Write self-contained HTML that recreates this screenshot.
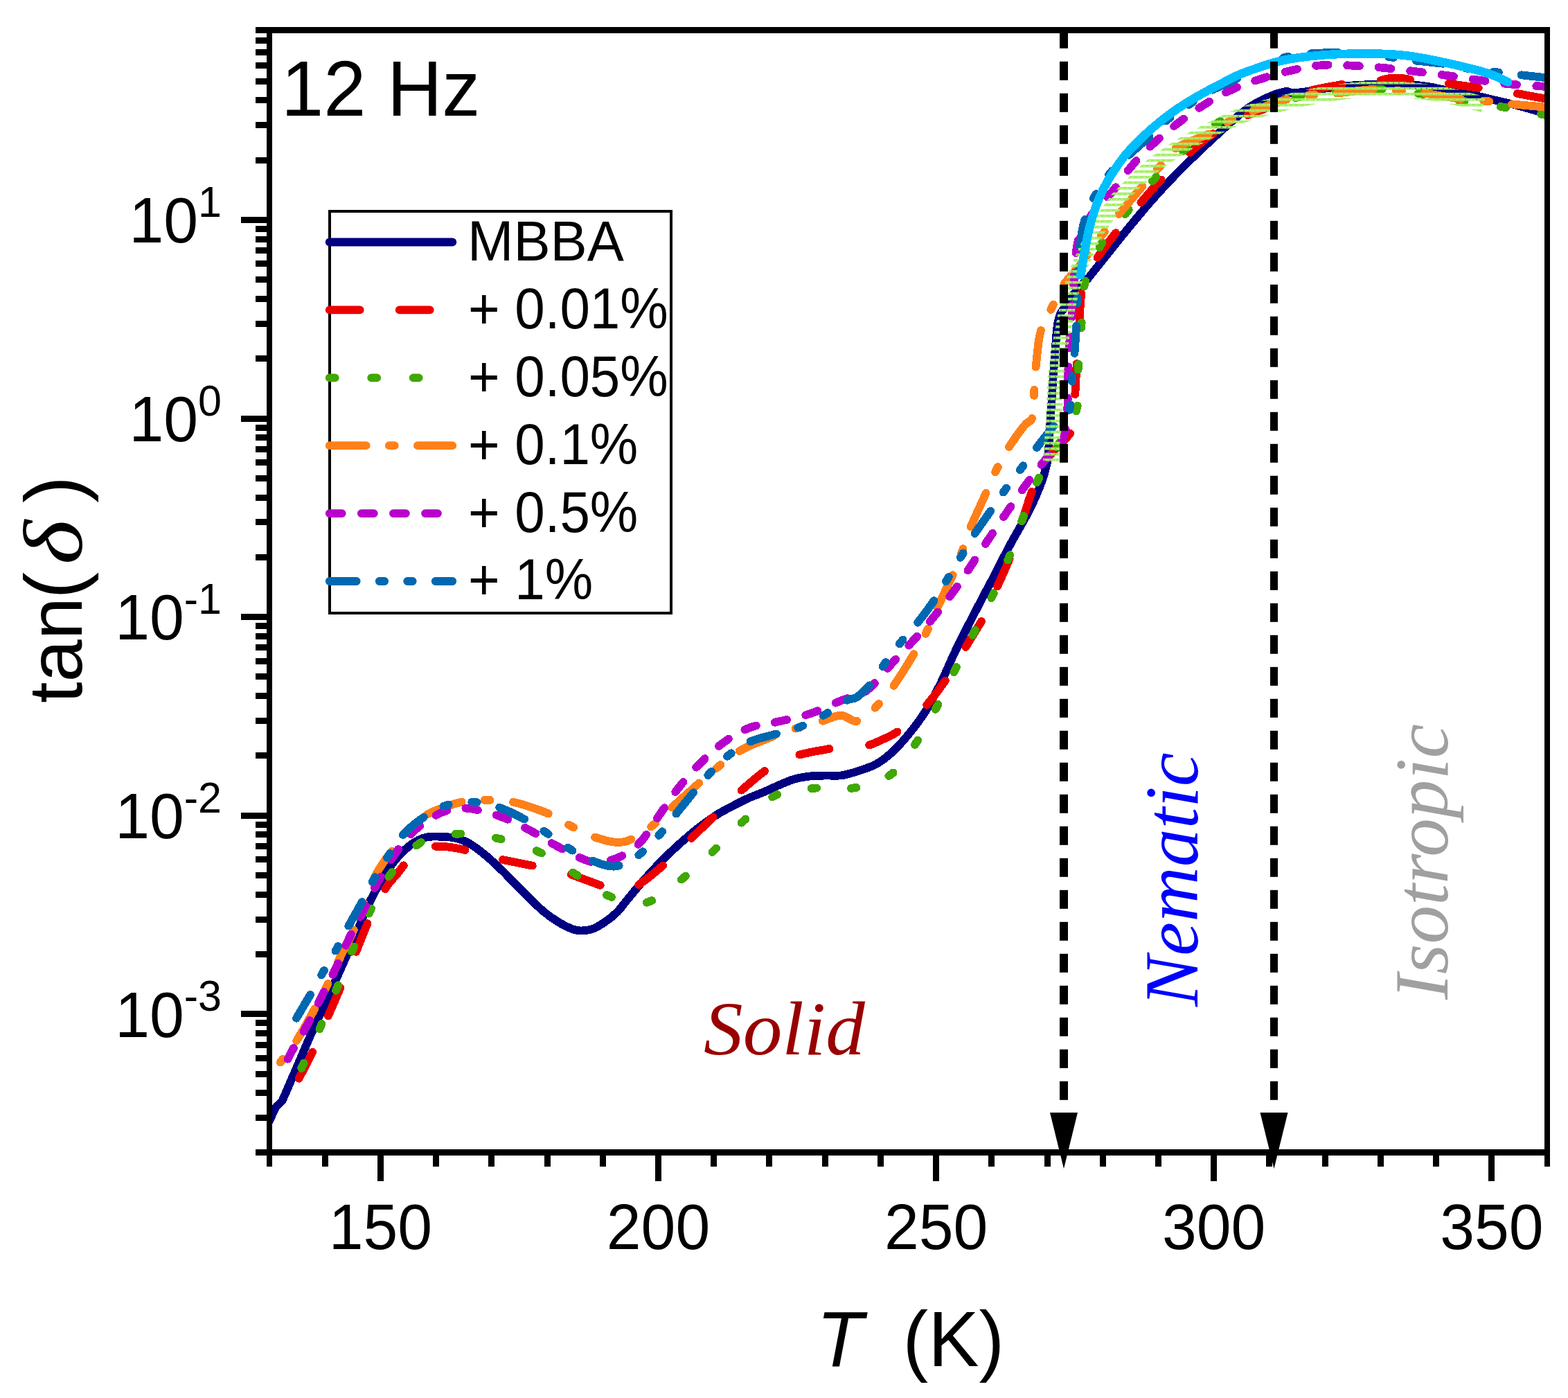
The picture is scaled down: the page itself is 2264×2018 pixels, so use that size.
<!DOCTYPE html>
<html lang="en"><head><meta charset="utf-8"><title>tan(δ) vs T — 12 Hz</title>
<style>html,body{margin:0;padding:0;background:#fff}body{width:2264px;height:2018px;overflow:hidden}svg{display:block}text{font-family:"Liberation Sans",sans-serif;fill:#000}.ser{font-family:"Liberation Serif",serif;font-style:italic}.c{fill:none;stroke-linecap:round;stroke-linejoin:round}</style></head><body>
<svg width="2264" height="2018" viewBox="0 0 2264 2018">
<defs><pattern id="ht" width="8" height="8" patternUnits="userSpaceOnUse" y="5.8"><path d="M0 0H8V3.7H0ZM3.4 1.3h1.2v1.2h-1.2z" fill="#a0f060" fill-rule="evenodd"/></pattern><clipPath id="cp"><rect x="393" y="48" width="1837" height="1611"/></clipPath></defs>
<rect width="2264" height="2018" fill="#fff"/>
<g clip-path="url(#cp)" shape-rendering="crispEdges">
<path class="c" d="M385 1626C386.2 1623.6 390 1615.8 392 1611.5C394 1607.2 395.9 1602.8 397 1600.5C398.1 1598.2 397.7 1598.9 398.6 1597.8C399.6 1596.7 401.3 1595.1 402.7 1593.7C404.1 1592.3 406 1590.7 407 1589.5C408 1588.3 407.6 1588.7 408.6 1586.5C409.6 1584.3 410.4 1582.4 413 1576.5C415.6 1570.6 417.4 1566.2 424 1551C430.6 1535.8 445.2 1501.5 452.5 1485C459.8 1468.5 462.9 1463.2 468 1452C473.1 1440.8 478.2 1429.4 483.3 1418C488.4 1406.6 493.2 1396 498.7 1383.5C504.2 1371 510.4 1356.6 516.3 1343C522.1 1329.4 527 1315.8 533.8 1302C540.6 1288.2 550.1 1271.4 557 1260.4C563.9 1249.5 568.8 1243.2 575 1236.3C581.2 1229.3 587.8 1223.3 594.3 1218.7C600.8 1214.1 607.3 1210.6 614.3 1208.8C621.3 1207 629 1207.5 636.3 1207.7C643.6 1207.9 651.6 1208.4 658.2 1209.9C664.8 1211.4 669.2 1212.8 675.8 1216.5C682.4 1220.2 690.5 1226.1 697.8 1231.9C705.1 1237.8 712.5 1244.6 719.8 1251.6C727.1 1258.5 734.5 1266.3 741.8 1273.6C749.1 1280.9 756.4 1288.4 763.7 1295.6C771 1302.8 778.4 1310.5 785.7 1316.5C793 1322.5 801.1 1327.9 807.7 1331.9C814.3 1335.9 820.2 1338.8 825.3 1340.7C830.4 1342.6 833.4 1343.5 838.5 1343.5C843.6 1343.5 850.1 1342.8 856 1340.7C861.9 1338.6 867.7 1334.8 873.6 1330.8C879.5 1326.8 886.1 1321.5 891.2 1316.5C896.3 1311.5 898.2 1307.9 904 1300.9C909.8 1293.9 918.7 1282.9 926 1274.5C933.3 1266.1 940.7 1258 948 1250.3C955.3 1242.6 962.7 1235.4 970 1228.4C977.3 1221.5 984.7 1214.8 992 1208.6C999.3 1202.4 1006.5 1196.5 1013.8 1191C1021.1 1185.5 1028.5 1180.2 1035.8 1175.6C1043.1 1171 1050.5 1167.3 1057.8 1163.5C1065.1 1159.7 1072.5 1155.8 1079.8 1152.5C1087.1 1149.2 1094.5 1146.8 1101.8 1143.7C1109.1 1140.6 1116.4 1136.9 1123.7 1133.8C1131 1130.7 1138.4 1127.2 1145.7 1125C1153 1122.8 1160.4 1121.6 1167.7 1120.7C1175 1119.8 1182.4 1119.8 1189.7 1119.6C1197 1119.4 1206.2 1119.9 1211.6 1119.6C1217 1119.3 1216.6 1119.4 1222 1118C1227.4 1116.6 1236.7 1114 1244 1111.4C1251.3 1108.8 1258.7 1106.7 1266 1102.5C1273.3 1098.3 1280.3 1093 1287.9 1086C1295.5 1079 1303.3 1070.5 1311.5 1060.5C1319.7 1050.5 1329.2 1038.1 1337 1025.7C1344.8 1013.3 1351.4 1000.1 1358.3 986.2C1365.2 972.3 1371.3 956.9 1378.3 942.2C1385.3 927.5 1393 912.5 1400.3 898.2C1407.6 883.9 1416 867.8 1422 856.5C1428 845.2 1431.3 839.3 1436 830.3C1440.7 821.3 1445.8 810.8 1450.2 802.3C1454.6 793.8 1458.2 786.9 1462.4 779.2C1466.6 771.5 1471.5 763.6 1475.6 756.2C1479.7 748.8 1483.5 741.9 1487.1 734.7C1490.7 727.6 1494 720.4 1497 713.3C1500 706.2 1503.1 698.2 1505.3 691.9C1507.5 685.6 1508.8 680.9 1510.2 675.4C1511.6 669.9 1512.8 664.4 1513.5 658.9C1514.2 653.4 1514.2 647.9 1514.5 642.4C1514.8 636.9 1515.2 631.4 1515.5 625.9C1515.8 620.4 1516.2 615 1516.5 609.5C1516.8 604 1517.2 597.9 1517.5 593C1517.8 588.1 1517.9 588.8 1518.5 580C1519.1 571.2 1520.1 553.3 1521 540C1521.9 526.7 1523 512 1524 500C1525 488 1525.8 475.8 1527 468C1528.2 460.2 1529.2 457.2 1531 453C1532.8 448.8 1535.2 447.2 1538 443C1540.8 438.8 1545 432.2 1548 428C1551 423.8 1553 421.5 1556 418C1559 414.5 1563.2 410 1566 407C1568.8 404 1566.8 406.9 1572.5 400C1578.2 393.1 1590.1 377.8 1600 365.5C1609.9 353.2 1621.2 339.1 1632 326C1642.8 312.9 1654 299.4 1665 287C1676 274.6 1687 262.8 1698 251.5C1709 240.2 1720.7 228.9 1731 219C1741.3 209.1 1751.8 199.5 1760 192C1768.2 184.5 1773.3 179.8 1780 174C1786.7 168.2 1794.2 161.8 1800 157.5C1805.8 153.2 1808.8 151.3 1815 148C1821.2 144.7 1831.2 140.1 1837 137.7C1842.8 135.3 1846.5 134.4 1850 133.5C1853.5 132.6 1855.3 131.9 1858 132C1860.7 132.1 1861.7 133.9 1866 134C1870.3 134.1 1876.1 133.5 1883.6 132.5C1891.1 131.5 1901.8 129.3 1911 128C1920.2 126.7 1929.4 125.5 1938.6 124.6C1947.8 123.7 1957.4 123.1 1966 122.6C1974.6 122.1 1981.8 121.8 1990 121.6C1998.2 121.4 2006.5 121.3 2015 121.5C2023.5 121.7 2032.2 121.8 2041 122.5C2049.8 123.2 2061.2 124.9 2068 126C2074.8 127.1 2075 127.7 2082 129C2089 130.3 2100.8 132.2 2110 134C2119.2 135.8 2129 137.8 2137 139.5C2145 141.2 2149.2 142.4 2158 144.5C2166.8 146.6 2179.7 149.3 2190 152C2200.3 154.7 2212.7 158.4 2220 160.5C2227.3 162.6 2231.7 163.8 2234 164.5" stroke="#000080" stroke-width="11.8"/>
<path class="c" d="M431.6 1556.7L443.9 1533.3L451.2 1518.7M473.9 1466.5L491.4 1426.1M514.3 1373.8L525.2 1345.9L530.6 1333.3M556.2 1283.3L562.4 1273.8L572.4 1262.8L582.8 1249.3M628.9 1221.7L637.9 1221.7L650.6 1222.9L660.4 1224.5L671.6 1227M725.8 1241L768.7 1249.6M824.8 1262.4L866.7 1277.9M922.2 1277.2L935.8 1267.3L957.1 1249.6M998.2 1210L1029.7 1179.5M1070.6 1140.7L1091.7 1122.7L1104 1113M1154.4 1089.4L1174 1085.1L1197.6 1080.9M1255.3 1075.5L1262.4 1072.9L1282.4 1063.8L1289.9 1059.9L1295.5 1056.5M1338.1 1017.8L1349.7 1003.4L1364.9 982.6M1394.4 934L1417 897M1440.1 846.6L1452.4 819.2L1457.7 806.5M1475.9 751.8L1485.6 721.8L1489.9 709.7M1515.1 658.2L1524.2 647.7L1538.9 633.3L1545.2 625.7M1552.3 569.3L1554.7 525M1558.4 467.7L1560 435.6L1561.5 423.5M1584.5 371.7L1597.2 354.2L1611 336.2M1647.4 292.2L1664 272.9L1676.7 259.4M1717.7 220.3L1736.2 204.1L1743.1 198.9L1751.8 193.1M1801.6 166.2L1824.6 157.6L1842.1 149.8M1895.1 130L1914 126.1L1937.8 121.9M1993.4 116.1L2002.3 113.6L2014.3 112.5L2022.8 112.7L2036 114.9M2091.7 120.7L2134.7 126.9M2190.8 135.1L2234 143" stroke="#ec0000" stroke-width="11.8"/>
<path class="c" d="M435.2 1542L438.6 1534.6M461.4 1485.4L464.6 1478M485.1 1429.7L488.1 1422.3M508 1373.8L511.2 1366.5M532.5 1318.6L536 1311.4M561.2 1265.5L566 1259.1M601.3 1220.5L607.9 1215.9M657.6 1203.8L665.4 1203.5M715.9 1209.6L723.7 1211.3M774.6 1228.2L782 1231.6M826.9 1259.4L833.7 1263.7M876 1292L883.2 1295M933.7 1302.7L941.2 1300.1M983.7 1269.6L989.9 1264.7M1028.4 1230L1034.1 1224.5M1070.6 1187.7L1076.4 1182.4M1115.2 1150.4L1122.1 1147.1M1171.5 1138L1179.1 1137.5M1229 1138L1236.5 1136.8M1283.3 1120L1289.5 1115.5M1320.9 1075L1325.3 1068.5M1350.8 1023.8L1354.5 1016.9M1377.4 970.2L1380.9 963.1M1404.3 916.7L1407.9 909.6M1431.4 863.3L1434.8 856.2M1455.3 808.6L1458.2 801.2M1475.2 752.3L1478 744.8M1497 696.6L1500.4 689.5M1526 645.3L1529.9 638.5M1553.8 593.5L1555.7 585.8M1556.6 533.6L1557.1 525.7M1561.2 473.5L1561.7 465.6M1565.4 413.5L1567.3 405.7M1587.4 357L1591.4 350M1624.7 309.1L1629.8 302.9M1663.8 261.3L1669.3 255.3M1708 218.1L1714.1 212.8M1755 179.2L1761.9 175M1811.3 156.4L1819 154.1M1870.4 141.1L1878.1 139.6M1928.9 132.1L1936.7 131.4M1988 128.6L1995.9 128.8M2047.6 134.8L2055.4 136M2106.8 144.9L2114.6 146.2M2166.5 153.9L2174.3 155.2M2225 164.8L2232.8 166.3" stroke="#40a800" stroke-width="11.8"/>
<path class="c" d="M404.7 1533.5L408.3 1528.8M428.2 1502.4L438.1 1486L454.3 1456.3M470 1427.1L473.6 1420M487.5 1389.9L494 1376L505.9 1352.9L510.8 1342.4M522.6 1311.4L525.4 1304M537.6 1273.2L542.3 1263.2L547.9 1253.6L555.5 1242.3L565.9 1228.5M585.7 1202L591 1196M616.9 1175.6L624.1 1171.9L631.9 1168.9L655.7 1160.5L666.6 1157.6M699.5 1154.9L707.6 1154.9M740.9 1157.7L752.1 1160.5L768.4 1165.8L781.4 1170.3L791.7 1174.5M821 1190.6L828.2 1194.4M859 1208.6L875 1213.4L883.7 1215.2L890.4 1216L895.9 1215.9L900.8 1215.2L905.7 1213.9L911.5 1211.5M940.1 1193.4L946.3 1188.2M970.1 1165.5L1009.3 1130.4M1034.3 1109L1040.5 1104M1067.5 1084.2L1075.9 1079.7L1085.1 1075.5L1116.8 1062.8M1148.5 1051.7L1156.1 1049.5M1187.8 1040.7L1205.2 1034.3L1209.6 1033.1L1213.8 1032.7L1216.8 1033L1219.8 1034L1232 1040.5L1234.4 1041.1L1237.2 1040.9M1263.5 1021.8L1269 1016M1290.4 989.9L1302.3 972.2L1319.5 944.1M1336.5 914.8L1340 907.6M1353.2 877.6L1375.7 830.1M1387.8 799.6L1390.6 792.1M1401.5 760.5L1423.6 711.8M1437.2 681.3L1440.8 674.1M1457 645L1467.2 630L1478.2 615.3L1482 611.2L1488.4 606.9L1490.2 604M1493 570.9L1493.3 562.9M1495.6 529.7L1499.3 495.2L1501.2 484.3L1503 477M1517.3 447L1520.9 439.7M1536.4 409.9L1543 401.7L1559.1 383.1L1570.1 368M1589.9 340.7L1594.8 334.4M1615.6 309.1L1649.3 269M1670.9 244.4L1676.2 238.5M1697.4 214.4L1703 211.1L1711 207.3L1744.8 193.6M1772.3 176.5L1779.2 172.9M1809 160.2L1837.3 149.8L1858 143.3M1889.8 137.3L1897.7 136.4M1930.6 134.6L1966.9 130.3L1983.1 128.8M2016 131L2023.9 131.6M2056.9 134.5L2109.2 143.1M2142.2 145.6L2150.2 146.4M2183 150.3L2234 155" stroke="#ff8019" stroke-width="11.8"/>
<path class="c" d="M415.5 1528.7L423.9 1512.8M438.5 1488.9L447.1 1473.1M459.6 1447.9L467.7 1431.8M480.4 1406.8L488.1 1390.5M499.2 1364.8L506.9 1348.5M520 1323.7L528.2 1307.6M540.8 1281.9L549.7 1265.7M564.6 1240.8L575.2 1225.9M593.2 1204.2L599.6 1197.8L606.3 1192.1M629.4 1176.9L638.4 1172.4L645.5 1170M672.4 1166.6L680 1167.3L689.8 1169.2M716.7 1176.5L733.3 1182.7M758 1194.8L773.4 1203.1M796.6 1217.1L811.9 1225.5M836.6 1237.8L845.8 1241.6L853.4 1244M881.4 1242L890.9 1238.8L898.3 1235.3M921.5 1218.8L927.7 1212.1L933.2 1204.8M949 1181L959.2 1166.1M975.2 1143.1L986.4 1128.9M1005.1 1107.7L1017.7 1095M1038 1076.9L1052 1066.6M1075.4 1053.2L1084.2 1049.7L1091.9 1047.5M1118.7 1042.7L1136.1 1038.9M1163.3 1032.2L1172 1029.5L1180.5 1026.3M1206.6 1014.6L1215.8 1010.8L1223.5 1008.2M1249.6 998.2L1255.8 993.3L1262.9 986.1M1281.3 964.9L1293.2 951.8M1312.2 931.7L1324.2 918.5M1342.7 897.3L1354.2 883.4M1371.3 861.3L1381.9 846.8M1397.5 823.4L1407.5 808.4M1423 784.9L1433.1 769.8M1449.1 746.2L1459.4 731.1M1475.6 707.5L1486.3 692.9M1503.4 670.9L1514.8 657.2M1533.4 636.7L1535.1 633.9L1536.5 630L1538.7 619.9M1541.3 592.3L1541.7 574.5M1542 546.8L1542.5 529.3M1543.7 502.5L1544.9 485.2M1547.3 458L1548.6 440.3M1550.2 412.2L1551.5 394M1553.6 365.1L1555 355.5L1556.7 346.9M1568.4 320.6L1579.4 305.8M1599 284.6L1605.5 277.2L1611 270.2M1628.6 246.2L1640.6 232M1660.6 211.7L1673.9 199.5M1695.2 182.1L1709.1 171.6M1731.3 155.9L1746.1 146.7M1770 133.4L1786.1 126.1M1812.3 116.6L1829.1 111.2M1855.7 103.8L1872.9 99.8M1900 94.8L1917.6 93.6M1945.1 94.3L1962.9 95.2M1990.7 97.3L2008.5 99M2036.1 102.2L2053.8 104.4M2081.4 107.9L2099.1 110.4M2126.7 114.4L2144.4 116.9M2172.2 120.6L2190.1 122.3M2218.2 124.1L2234 125" stroke="#b800cc" stroke-width="11.8"/>
<path class="c" d="M428 1469.8L448 1435.9M464.1 1407.4L467.9 1400.8M484.5 1372.5L488.2 1365.9M503.3 1336.6L522.7 1302.1M537.9 1272.8L541.7 1266.2M559.1 1238.2L563.2 1231.9M581.9 1205.1L588.1 1198.6L594.5 1192.9L602.4 1186.5L611.8 1179.7M640.4 1163.8L647.7 1161.6M681.2 1157.8L688.8 1158.1M721.1 1165.6L736.4 1172L757.1 1182.4M785.3 1199.8L791.7 1204M819.9 1223.7L826.4 1227.7M855.7 1242.6L867.2 1247.1L879.4 1250.2L886.2 1250.7L893.7 1249.6M922.3 1234.2L928 1229.2M951.2 1205.9L956.2 1200.3M976.4 1174.6L1001.1 1144.1M1022.2 1119.1L1027.3 1113.7M1050 1091.8L1055.8 1087.3M1083.5 1070.4L1095.2 1066.2L1121 1059.4M1152.3 1050.5L1159.2 1047.6M1188.6 1032.8L1195.2 1029.1M1223 1010.7L1227.1 1009.1L1233.9 1008L1237.7 1006.1L1246.2 999.1L1255.4 989.4M1274.5 962.1L1278.9 955.9M1298.9 929.4L1303.6 923.5M1325.1 898.7L1337.7 882.4L1348.6 867.1M1365.9 839.3L1369.8 832.9M1386.8 804.9L1390.7 798.5M1407.5 770.2L1430.2 737.8M1448.7 710.6L1453.1 704.5M1472.8 678.3L1477.3 672.3M1497 646L1521.3 615M1544.1 591.8L1545.5 584.3M1547.9 550.6L1548.5 543M1551.5 510L1554.2 470.4M1555.9 437.3L1556.1 429.7M1557 396.6L1557.3 389M1559.3 356L1561.9 335.8L1563.8 326.5L1566.3 317M1578.8 286.4L1582.7 279.9M1601.1 252.3L1605.8 246.4M1629.9 223.8L1659.5 197.4M1683.5 174.6L1689.4 169.7M1716.5 151.3L1722.7 147.1M1750.5 129.6L1776 118.5L1786.3 113.4M1815.4 98.3L1822.3 95.3M1852.9 83.4L1860.2 81.5M1892.7 77.4L1911.7 76.3L1932 76M1964.8 77.1L1972.3 77.7M2004.8 82L2012.2 83M2044.7 87.6L2083.8 91.8M2116 98.3L2123.5 99.5M2156.3 103.7L2163.8 104.6M2196.4 108.3L2234 112.5" stroke="#0068b0" stroke-width="11.8"/>
<path d="M1517 666C1517.2 662.5 1518 651.7 1518.5 645C1519 638.3 1519.4 634.7 1520 626C1520.6 617.3 1521.2 607.3 1522 593C1522.8 578.7 1523.5 556.2 1525 540C1526.5 523.8 1528.7 510.2 1531 496C1533.3 481.8 1537.2 464.3 1539 455C1540.8 445.7 1540.2 447.8 1542 440C1543.8 432.2 1547.2 417.3 1550 408C1552.8 398.7 1556.3 390.7 1559 384C1561.7 377.3 1563.7 373.3 1566 368C1568.3 362.7 1570 358 1573 352C1576 346 1579.8 338.8 1584 332C1588.2 325.2 1593 318.3 1598 311C1603 303.7 1607.4 295.8 1614 288C1620.6 280.2 1629.3 272 1637.6 264C1645.9 256 1655.5 246.7 1663.6 240C1671.7 233.3 1678.2 229.3 1686 224C1693.8 218.7 1701.6 213.3 1710.6 208C1719.6 202.7 1730.1 197.2 1740 192C1749.9 186.8 1759.5 181.8 1770 177C1780.5 172.2 1788 168 1803 163C1818 158 1843.8 151.1 1860 147C1876.2 142.9 1885 141.2 1900 138.5C1915 135.8 1933.3 132.6 1950 131C1966.7 129.4 1983.3 128.9 2000 129C2016.7 129.1 2033.3 129.9 2050 131.7C2066.7 133.5 2084.7 136.8 2100 140C2115.3 143.2 2135 149.2 2142 151" fill="none" stroke="url(#ht)" stroke-width="23" stroke-linejoin="round"/>
<path class="c" d="M1560 397C1560.2 396.4 1560 398.9 1561 393.4C1562 387.8 1564.1 374.1 1566 363.7C1567.9 353.3 1569.8 341.8 1572.5 330.8C1575.2 319.8 1578.8 307.7 1582.4 297.8C1586 287.9 1589.9 279.6 1594 271.4C1598.1 263.2 1602.2 256.1 1607.1 248.4C1612 240.7 1617.8 232.5 1623.6 225.3C1629.4 218.2 1634.9 212.4 1641.8 205.5C1648.7 198.6 1656.8 191 1664.8 184.1C1672.8 177.2 1681.3 170.4 1689.6 164.3C1697.8 158.2 1706.1 152.9 1714.3 147.8C1722.5 142.7 1730.8 138.1 1739 133.5C1747.2 128.9 1755.6 124.7 1763.7 120.5C1771.8 116.3 1779 112.2 1787.5 108.5C1796 104.8 1805.8 101.4 1815 98.2C1824.2 95 1833.2 91.9 1842.4 89.5C1851.6 87.1 1860.7 85.5 1869.9 84C1879.1 82.5 1888.2 81.5 1897.4 80.6C1906.6 79.7 1915.7 79 1924.8 78.5C1933.9 78 1943.1 77.8 1952.3 77.6C1961.5 77.4 1971.8 77.5 1979.8 77.6C1987.8 77.6 1992 77.5 2000 77.9C2008 78.3 2018.3 78.9 2027.5 79.9C2036.7 80.9 2045.8 82.4 2055 84C2064.2 85.6 2073.2 87.5 2082.4 89.5C2091.6 91.5 2100.7 93.5 2109.9 95.7C2119.1 97.9 2129.4 100.3 2137.4 102.6C2145.4 104.9 2151.4 106.9 2158 109.5C2164.6 112.1 2174 116.9 2177.2 118.4" stroke="#00bfff" stroke-width="12.5"/>
</g>
<rect x="1530" y="42.8" width="12" height="27" fill="#000"/>
<rect x="1530" y="88.8" width="12" height="27" fill="#000"/>
<rect x="1530" y="134.8" width="12" height="27" fill="#000"/>
<rect x="1530" y="180.8" width="12" height="27" fill="#000"/>
<rect x="1530" y="226.8" width="12" height="27" fill="#000"/>
<rect x="1530" y="272.8" width="12" height="27" fill="#000"/>
<rect x="1530" y="318.8" width="12" height="27" fill="#000"/>
<rect x="1530" y="364.8" width="12" height="27" fill="#000"/>
<rect x="1530" y="410.8" width="12" height="27" fill="#000"/>
<rect x="1530" y="456.8" width="12" height="27" fill="#000"/>
<rect x="1530" y="502.8" width="12" height="27" fill="#000"/>
<rect x="1530" y="548.8" width="12" height="27" fill="#000"/>
<rect x="1530" y="594.8" width="12" height="27" fill="#000"/>
<rect x="1530" y="640.8" width="12" height="27" fill="#000"/>
<rect x="1530" y="686.8" width="12" height="27" fill="#000"/>
<rect x="1530" y="732.8" width="12" height="27" fill="#000"/>
<rect x="1530" y="778.8" width="12" height="27" fill="#000"/>
<rect x="1530" y="824.8" width="12" height="27" fill="#000"/>
<rect x="1530" y="870.8" width="12" height="27" fill="#000"/>
<rect x="1530" y="916.8" width="12" height="27" fill="#000"/>
<rect x="1530" y="962.8" width="12" height="27" fill="#000"/>
<rect x="1530" y="1008.8" width="12" height="27" fill="#000"/>
<rect x="1530" y="1054.8" width="12" height="27" fill="#000"/>
<rect x="1530" y="1100.8" width="12" height="27" fill="#000"/>
<rect x="1530" y="1146.8" width="12" height="27" fill="#000"/>
<rect x="1530" y="1192.8" width="12" height="27" fill="#000"/>
<rect x="1530" y="1238.8" width="12" height="27" fill="#000"/>
<rect x="1530" y="1284.8" width="12" height="27" fill="#000"/>
<rect x="1530" y="1330.8" width="12" height="27" fill="#000"/>
<rect x="1530" y="1376.8" width="12" height="27" fill="#000"/>
<rect x="1530" y="1422.8" width="12" height="27" fill="#000"/>
<rect x="1530" y="1468.8" width="12" height="27" fill="#000"/>
<rect x="1530" y="1514.8" width="12" height="27" fill="#000"/>
<rect x="1530" y="1560.8" width="12" height="27" fill="#000"/>
<path d="M1516 1606H1556L1536 1687Z" fill="#000"/>
<rect x="1834" y="42.8" width="11" height="27" fill="#000"/>
<rect x="1834" y="88.8" width="11" height="27" fill="#000"/>
<rect x="1834" y="134.8" width="11" height="27" fill="#000"/>
<rect x="1834" y="180.8" width="11" height="27" fill="#000"/>
<rect x="1834" y="226.8" width="11" height="27" fill="#000"/>
<rect x="1834" y="272.8" width="11" height="27" fill="#000"/>
<rect x="1834" y="318.8" width="11" height="27" fill="#000"/>
<rect x="1834" y="364.8" width="11" height="27" fill="#000"/>
<rect x="1834" y="410.8" width="11" height="27" fill="#000"/>
<rect x="1834" y="456.8" width="11" height="27" fill="#000"/>
<rect x="1834" y="502.8" width="11" height="27" fill="#000"/>
<rect x="1834" y="548.8" width="11" height="27" fill="#000"/>
<rect x="1834" y="594.8" width="11" height="27" fill="#000"/>
<rect x="1834" y="640.8" width="11" height="27" fill="#000"/>
<rect x="1834" y="686.8" width="11" height="27" fill="#000"/>
<rect x="1834" y="732.8" width="11" height="27" fill="#000"/>
<rect x="1834" y="778.8" width="11" height="27" fill="#000"/>
<rect x="1834" y="824.8" width="11" height="27" fill="#000"/>
<rect x="1834" y="870.8" width="11" height="27" fill="#000"/>
<rect x="1834" y="916.8" width="11" height="27" fill="#000"/>
<rect x="1834" y="962.8" width="11" height="27" fill="#000"/>
<rect x="1834" y="1008.8" width="11" height="27" fill="#000"/>
<rect x="1834" y="1054.8" width="11" height="27" fill="#000"/>
<rect x="1834" y="1100.8" width="11" height="27" fill="#000"/>
<rect x="1834" y="1146.8" width="11" height="27" fill="#000"/>
<rect x="1834" y="1192.8" width="11" height="27" fill="#000"/>
<rect x="1834" y="1238.8" width="11" height="27" fill="#000"/>
<rect x="1834" y="1284.8" width="11" height="27" fill="#000"/>
<rect x="1834" y="1330.8" width="11" height="27" fill="#000"/>
<rect x="1834" y="1376.8" width="11" height="27" fill="#000"/>
<rect x="1834" y="1422.8" width="11" height="27" fill="#000"/>
<rect x="1834" y="1468.8" width="11" height="27" fill="#000"/>
<rect x="1834" y="1514.8" width="11" height="27" fill="#000"/>
<rect x="1834" y="1560.8" width="11" height="27" fill="#000"/>
<path d="M1819.5 1606H1859.5L1839.5 1687Z" fill="#000"/>
<g fill="#000">
<rect x="369" y="39" width="1869" height="9"/>
<rect x="369" y="1659" width="1869" height="9"/>
<rect x="385" y="39" width="8" height="1645"/>
<rect x="2230" y="39" width="8" height="1645"/>
<rect x="369" y="1609" width="17" height="9"/>
<rect x="369" y="1573" width="17" height="9"/>
<rect x="369" y="1546" width="17" height="9"/>
<rect x="369" y="1523" width="17" height="9"/>
<rect x="369" y="1504" width="17" height="9"/>
<rect x="369" y="1487" width="17" height="9"/>
<rect x="369" y="1472" width="17" height="9"/>
<rect x="348" y="1459" width="38" height="9"/>
<rect x="369" y="1373" width="17" height="9"/>
<rect x="369" y="1323" width="17" height="9"/>
<rect x="369" y="1287" width="17" height="9"/>
<rect x="369" y="1259" width="17" height="9"/>
<rect x="369" y="1236" width="17" height="9"/>
<rect x="369" y="1217" width="17" height="9"/>
<rect x="369" y="1200" width="17" height="9"/>
<rect x="369" y="1186" width="17" height="9"/>
<rect x="348" y="1173" width="38" height="9"/>
<rect x="369" y="1086" width="17" height="9"/>
<rect x="369" y="1036" width="17" height="9"/>
<rect x="369" y="1000" width="17" height="9"/>
<rect x="369" y="972" width="17" height="9"/>
<rect x="369" y="950" width="17" height="9"/>
<rect x="369" y="930" width="17" height="9"/>
<rect x="369" y="914" width="17" height="9"/>
<rect x="369" y="899" width="17" height="9"/>
<rect x="348" y="886" width="38" height="9"/>
<rect x="369" y="800" width="17" height="9"/>
<rect x="369" y="749" width="17" height="9"/>
<rect x="369" y="714" width="17" height="9"/>
<rect x="369" y="686" width="17" height="9"/>
<rect x="369" y="663" width="17" height="9"/>
<rect x="369" y="644" width="17" height="9"/>
<rect x="369" y="627" width="17" height="9"/>
<rect x="369" y="613" width="17" height="9"/>
<rect x="348" y="600" width="38" height="9"/>
<rect x="369" y="513" width="17" height="9"/>
<rect x="369" y="463" width="17" height="9"/>
<rect x="369" y="427" width="17" height="9"/>
<rect x="369" y="399" width="17" height="9"/>
<rect x="369" y="376" width="17" height="9"/>
<rect x="369" y="357" width="17" height="9"/>
<rect x="369" y="341" width="17" height="9"/>
<rect x="369" y="326" width="17" height="9"/>
<rect x="348" y="313" width="38" height="9"/>
<rect x="369" y="227" width="17" height="9"/>
<rect x="369" y="176" width="17" height="9"/>
<rect x="369" y="140" width="17" height="9"/>
<rect x="369" y="113" width="17" height="9"/>
<rect x="369" y="90" width="17" height="9"/>
<rect x="369" y="71" width="17" height="9"/>
<rect x="369" y="54" width="17" height="9"/>
<rect x="465" y="1667" width="9" height="17"/>
<rect x="545" y="1667" width="9" height="38"/>
<rect x="625" y="1667" width="9" height="17"/>
<rect x="705" y="1667" width="9" height="17"/>
<rect x="786" y="1667" width="9" height="17"/>
<rect x="866" y="1667" width="9" height="17"/>
<rect x="946" y="1667" width="9" height="38"/>
<rect x="1026" y="1667" width="9" height="17"/>
<rect x="1106" y="1667" width="9" height="17"/>
<rect x="1187" y="1667" width="9" height="17"/>
<rect x="1267" y="1667" width="9" height="17"/>
<rect x="1347" y="1667" width="9" height="38"/>
<rect x="1427" y="1667" width="9" height="17"/>
<rect x="1508" y="1667" width="9" height="17"/>
<rect x="1588" y="1667" width="9" height="17"/>
<rect x="1668" y="1667" width="9" height="17"/>
<rect x="1748" y="1667" width="9" height="38"/>
<rect x="1828" y="1667" width="9" height="17"/>
<rect x="1909" y="1667" width="9" height="17"/>
<rect x="1989" y="1667" width="9" height="17"/>
<rect x="2069" y="1667" width="9" height="17"/>
<rect x="2149" y="1667" width="9" height="38"/>
</g>
<text transform="translate(549.4 1803.4) scale(1 1.04)" font-size="89.5" text-anchor="middle">150</text>
<text transform="translate(950.5 1803.4) scale(1 1.04)" font-size="89.5" text-anchor="middle">200</text>
<text transform="translate(1351.6 1803.4) scale(1 1.04)" font-size="89.5" text-anchor="middle">250</text>
<text transform="translate(1752.7 1803.4) scale(1 1.04)" font-size="89.5" text-anchor="middle">300</text>
<text transform="translate(2153.8 1803.4) scale(1 1.04)" font-size="89.5" text-anchor="middle">350</text>
<text transform="translate(320 350.1) scale(1 1.04)" font-size="89.5" text-anchor="end">10<tspan font-size="61" dy="-35.6">1</tspan></text>
<text transform="translate(320 636.7) scale(1 1.04)" font-size="89.5" text-anchor="end">10<tspan font-size="61" dy="-35.6">0</tspan></text>
<text transform="translate(320 923.3) scale(1 1.04)" font-size="89.5" text-anchor="end">10<tspan font-size="61" dy="-35.6">-1</tspan></text>
<text transform="translate(320 1209.9) scale(1 1.04)" font-size="89.5" text-anchor="end">10<tspan font-size="61" dy="-35.6">-2</tspan></text>
<text transform="translate(320 1496.5) scale(1 1.04)" font-size="89.5" text-anchor="end">10<tspan font-size="61" dy="-35.6">-3</tspan></text>
<text transform="translate(1179 1972) scale(1 1.03)" font-size="110" xml:space="preserve" style="word-spacing:-1.9px"><tspan font-style="italic">T</tspan>  (K)</text>
<text transform="translate(118 1015) rotate(-90)" font-size="110">tan<tspan font-size="117" dx="-2.7">(</tspan><tspan class="ser" font-size="120" dx="10.8" textLength="64.1" lengthAdjust="spacingAndGlyphs">δ</tspan><tspan font-size="117" dx="24.9">)</tspan></text>
<text transform="translate(406 166.7) scale(1 1.03)" font-size="110">12 Hz</text>
<text transform="translate(1016 1522.2) scale(1.03 1)" font-size="110" class="ser" style="fill:#990000">Solid</text>
<text transform="translate(1729.1 1453) rotate(-90)" font-size="110" class="ser" style="fill:#0000ff">Nematic</text>
<text transform="translate(2089.8 1443) rotate(-90) scale(1.012 1)" font-size="110" class="ser" style="fill:#a0a0a0">Isotropic</text>
<rect x="476" y="305" width="493" height="580" fill="#fff" stroke="#000" stroke-width="4"/>
<path class="c" d="M475.7 349.5H653.3" stroke="#000080" stroke-width="11.8"/>
<text transform="translate(675 375.9) scale(1 1.035)" font-size="79.7">MBBA</text>
<path class="c" d="M475.7 447.4H653.3" stroke="#ec0000" stroke-width="11.8" stroke-dasharray="44 57"/>
<text transform="translate(676 473.8) scale(0.98 1.035)" font-size="79.7">+ 0.01%</text>
<path class="c" d="M475.7 545.3H653.3" stroke="#40a800" stroke-width="11.8" stroke-dasharray="8 52.5"/>
<text transform="translate(676 571.7) scale(0.98 1.035)" font-size="79.7">+ 0.05%</text>
<path class="c" d="M475.7 643.2H653.3" stroke="#ff8019" stroke-width="11.8" stroke-dasharray="53 33.1 8 33.1"/>
<text transform="translate(676 669.6) scale(0.98 1.035)" font-size="79.7">+ 0.1%</text>
<path class="c" d="M475.7 741.1H653.3" stroke="#b800cc" stroke-width="11.8" stroke-dasharray="18 28.1"/>
<text transform="translate(676 767.5) scale(0.98 1.035)" font-size="79.7">+ 0.5%</text>
<path class="c" d="M475.7 839H653.3" stroke="#0068b0" stroke-width="11.8" stroke-dasharray="39 33 7.5 33 7.5 33"/>
<text transform="translate(676 865.4) scale(0.98 1.035)" font-size="79.7">+ 1%</text>
</svg></body></html>
